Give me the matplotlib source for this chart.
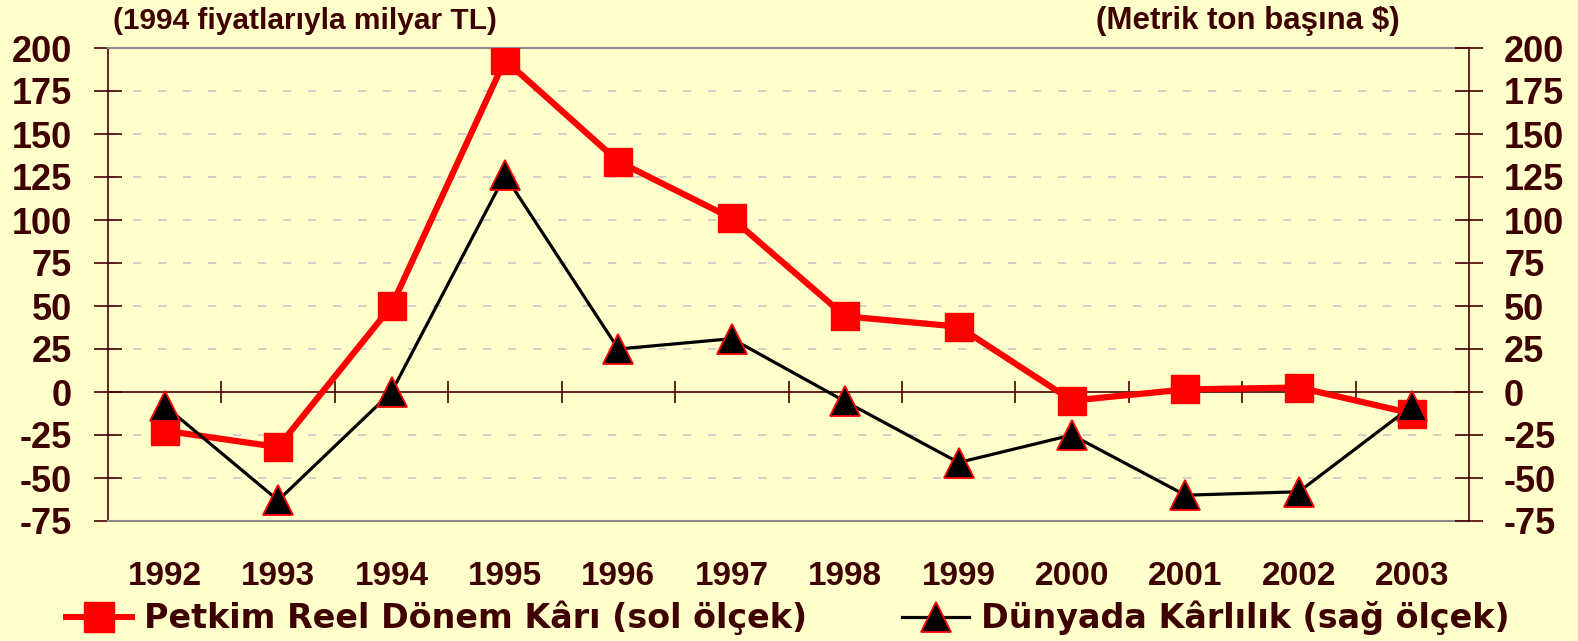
import matplotlib
matplotlib.use("Agg")
import matplotlib.pyplot as plt
from matplotlib.lines import Line2D

years = ["1992", "1993", "1994", "1995", "1996", "1997",
         "1998", "1999", "2000", "2001", "2002", "2003"]
petkim = [-22.5, -32, 50, 193, 134, 101, 44, 38, -5, 1.5, 2.6, -12.5]
dunya = [-8, -63, 0, 126, 25, 31, -5.5, -41, -25, -60, -58, -8]
y_ticks = [-75, -50, -25, 0, 25, 50, 75, 100, 125, 150, 175, 200]

bg = "#FFFFCC"
txt = "#3F0000"
axc = "#4A0000"

plt.rcParams['font.family'] = ['Liberation Sans', 'DejaVu Sans']
plt.rcParams['font.weight'] = 'bold'

fig = plt.figure(figsize=(15.78, 6.41), dpi=100, facecolor=bg)
ax = fig.add_axes([108 / 1578, 1 - 521 / 641, (1469 - 108) / 1578, (521 - 48) / 641])
ax.set_facecolor(bg)
x = list(range(len(years)))

ax.set_xlim(-0.5, len(years) - 0.5)
ax.set_ylim(-75, 200)
ax.set_yticks(y_ticks)
ax.set_yticklabels([str(v) for v in y_ticks])
ax.tick_params(axis='y', direction='inout', length=19.5, width=1.2, color=axc,
               labelsize=26, labelcolor=txt, pad=16)
ax.set_xticks(x)
ax.set_xticklabels(years)
ax.tick_params(axis='x', length=0, labelsize=24, labelcolor=txt, pad=29)

for v in y_ticks:
    if v not in (-75, 0, 200):
        ax.axhline(v, color="#C8C8C8", lw=1.2, dashes=(5, 10), zorder=0)

ax.spines['top'].set_color("#8C8C8C")
ax.spines['bottom'].set_color("#8C8C8C")
ax.spines['top'].set_linewidth(1.5)
ax.spines['bottom'].set_linewidth(1.5)
ax.spines['left'].set_color(axc)
ax.spines['right'].set_visible(False)
ax.spines['left'].set_linewidth(1.2)

# zero line with tick marks between categories
zero_pos = (0 - (-75)) / 275
sec = ax.secondary_xaxis(zero_pos)
sec.set_xticks([i + 0.5 for i in range(len(years) - 1)])
sec.set_xticklabels([])
sec.tick_params(direction='inout', length=16, width=1.2, color=axc)
sec.spines['bottom'].set_color(axc)
sec.spines['bottom'].set_linewidth(1.2)

ax.plot(x, petkim, color="#FF0000", lw=4.5, marker='s', markersize=20,
        markerfacecolor="#FF0000", markeredgecolor="#FF0000", zorder=3)

ax2 = ax.twinx()
ax2.set_ylim(-75, 200)
ax2.set_yticks(y_ticks)
ax2.set_yticklabels([str(v) for v in y_ticks])
ax2.tick_params(axis='y', direction='inout', length=19.5, width=1.2, color=axc,
                labelsize=26, labelcolor=txt, pad=15.5)
for s in ['top', 'bottom', 'left']:
    ax2.spines[s].set_visible(False)
ax2.spines['right'].set_color(axc)
ax2.spines['right'].set_linewidth(1.2)
ax2.plot(x, dunya, color="black", lw=2.3, marker='^', markersize=21,
         markerfacecolor="black", markeredgecolor="#FF0000", markeredgewidth=1.3,
         zorder=3)

fig.text(113 / 1578, 1 - 21 / 641, "(1994 fiyatlarıyla milyar TL)", color=txt,
         fontsize=21.5, fontweight='bold', va='center', ha='left')
fig.text(1400 / 1578, 1 - 21 / 641, "(Metrik ton başına $)", color=txt,
         fontsize=22.5, fontweight='bold', va='center', ha='right')

h1 = Line2D([], [], color="#FF0000", lw=4.3, marker='s', markersize=21,
            markerfacecolor="#FF0000", markeredgecolor="#FF0000")
h2 = Line2D([], [], color="black", lw=2.3, marker='^', markersize=21,
            markerfacecolor="black", markeredgecolor="#FF0000", markeredgewidth=1.3)
leg = fig.legend([h1, h2], ["Petkim Reel Dönem Kârı (sol ölçek)",
                            "Dünyada Kârlılık (sağ ölçek)"],
                 ncol=2, loc='center', bbox_to_anchor=(0.499, 1 - 618 / 641),
                 frameon=False, handlelength=2.0, handletextpad=0.35,
                 columnspacing=2.85, borderaxespad=0, borderpad=0,
                 prop={'family': ['DejaVu Sans'], 'weight': 'bold', 'size': 24})
for t in leg.get_texts():
    t.set_color(txt)

fig.savefig("out.png", dpi=100, facecolor=bg)
